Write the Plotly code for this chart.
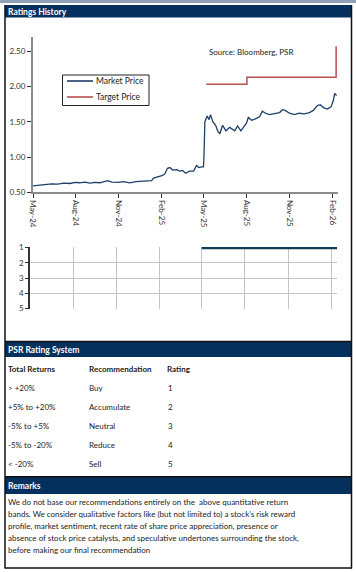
import plotly.graph_objects as go

W, H = 356, 572
def X(px): return px / W
def Y(py): return 1 - py / H

# ---------------- data ----------------
price_dates = [
    "2024-05-01", "2024-05-11", "2024-05-27", "2024-06-10", "2024-06-23", "2024-07-06",
    "2024-07-19", "2024-07-30", "2024-08-09", "2024-08-20", "2024-08-31", "2024-09-10",
    "2024-09-21", "2024-10-02", "2024-10-08", "2024-10-17", "2024-10-30", "2024-11-11",
    "2024-11-24", "2024-12-07", "2024-12-20", "2025-01-02", "2025-01-10", "2025-01-14",
    "2025-01-23", "2025-02-01", "2025-02-07", "2025-02-13", "2025-02-18", "2025-02-24",
    "2025-03-05", "2025-03-11", "2025-03-17", "2025-03-24", "2025-04-01", "2025-04-10",
    "2025-04-16", "2025-04-21", "2025-04-27", "2025-05-01", "2025-05-02", "2025-05-04",
    "2025-05-09", "2025-05-13", "2025-05-16", "2025-05-21", "2025-05-27", "2025-06-01",
    "2025-06-05", "2025-06-11", "2025-06-18", "2025-06-26", "2025-07-07", "2025-07-13",
    "2025-07-20", "2025-07-28", "2025-08-01", "2025-08-05", "2025-08-12", "2025-08-20",
    "2025-08-29", "2025-09-04", "2025-09-11", "2025-09-19", "2025-09-30", "2025-10-11",
    "2025-10-17", "2025-10-23", "2025-11-01", "2025-11-12", "2025-11-22", "2025-12-03",
    "2025-12-14", "2025-12-22", "2025-12-31", "2026-01-06", "2026-01-13", "2026-01-21",
    "2026-01-29", "2026-02-03", "2026-02-06", "2026-02-10",
]
price_values = [
    0.59, 0.60, 0.61, 0.62, 0.615, 0.63,
    0.625, 0.64, 0.635, 0.645, 0.63, 0.64,
    0.635, 0.65, 0.665, 0.645, 0.64, 0.65,
    0.635, 0.65, 0.655, 0.66, 0.665, 0.70,
    0.72, 0.735, 0.76, 0.84, 0.85, 0.815,
    0.82, 0.80, 0.81, 0.77, 0.80, 0.80,
    0.88, 0.85, 0.86, 0.86, 1.00, 1.50,
    1.58, 1.53, 1.60, 1.50, 1.45, 1.36,
    1.33, 1.45, 1.37, 1.42, 1.37, 1.44,
    1.37, 1.45, 1.48, 1.56, 1.52, 1.54,
    1.57, 1.65, 1.62, 1.60, 1.62, 1.63,
    1.67, 1.66, 1.62, 1.60, 1.62, 1.61,
    1.63, 1.66, 1.73, 1.74, 1.70, 1.68,
    1.71, 1.80, 1.90, 1.87,
]
target_dates = ["2025-05-07", "2025-08-02", "2026-02-09"]
target_values = [2.03, 2.13, 2.57]

rating_dates = ["2025-05-01", "2026-02-13"]
rating_values = [1, 1]

x_range = ["2024-05-01", "2026-02-13"]
price_ticks = [0.5, 1.0, 1.5, 2.0, 2.5]
rating_ticks = [1, 2, 3, 4, 5]

series_names = ["Market Price", "Target Price"]
series_colors = ["#1d3f69", "#b8504e"]

table_header = ["Total Returns", "Recommendation", "Rating"]
total_returns = ["> +20%", "+5% to +20%", "-5% to +5%", "-5% to -20%", "< -20%"]
recommendations = ["Buy", "Accumulate", "Neutral", "Reduce", "Sell"]
ratings = ["1", "2", "3", "4", "5"]

remarks_lines = [
    "We do not base our recommendations entirely on the  above quantitative return",
    "bands. We consider qualitative factors like (but not limited to) a stock's risk reward",
    "profile, market sentiment, recent rate of share price appreciation, presence or",
    "absence of stock price catalysts, and speculative undertones surrounding the stock,",
    "before making our final recommendation",
]

FONT = "Lato"
NAVY = "#04305e"

# ---------------- figure ----------------
fig = go.Figure()
fig.add_trace(go.Scatter(x=price_dates, y=price_values, mode="lines", name=series_names[0],
                         line=dict(color=series_colors[0], width=1.3), xaxis="x", yaxis="y"))
fig.add_trace(go.Scatter(x=target_dates, y=target_values, mode="lines", name=series_names[1],
                         line=dict(color=series_colors[1], width=1.5, shape="hv"), xaxis="x", yaxis="y"))
fig.add_trace(go.Scatter(x=rating_dates, y=rating_values, mode="lines", showlegend=False,
                         line=dict(color="#123a56", width=3), xaxis="x2", yaxis="y2"))

tickfont = dict(family=FONT, size=8, color="#333333")

fig.update_layout(
    width=W, height=H, autosize=False,
    margin=dict(l=0, r=0, t=0, b=0),
    paper_bgcolor="white", plot_bgcolor="white",
    font=dict(family=FONT, size=8, color="#222222"),
    showlegend=False,
    xaxis=dict(type="date", range=x_range, domain=[X(33), X(338)], anchor="y",
               tick0="2024-05-01", dtick="M3", tickformat="%b-%y", tickangle=90,
               ticks="outside", ticklen=4, tickcolor="#333333", tickwidth=1,
               showline=True, linecolor="#8c8c8c", linewidth=2,
               showgrid=False, zeroline=False, tickfont=tickfont, automargin=False),
    yaxis=dict(range=[0.5, 2.7], domain=[Y(192.3), Y(37)], anchor="x",
               tickvals=price_ticks, tickformat=".2f",
               ticks="outside", ticklen=4, tickcolor="#333333",
               showline=True, linecolor="#8c8c8c", linewidth=2,
               showgrid=False, zeroline=False, tickfont=tickfont, automargin=False),
    xaxis2=dict(type="date", range=x_range, domain=[X(30), X(337.2)], anchor="y2",
                tick0="2024-05-01", dtick="M3", showticklabels=False, ticks="",
                showgrid=True, gridcolor="#c4c4c4", gridwidth=1,
                showline=False, zeroline=False, automargin=False),
    yaxis2=dict(range=[5.03, 0.95], domain=[Y(308.8), Y(246.9)], anchor="x2",
                tickvals=rating_ticks, ticks="outside", ticklen=3, tickcolor="#333333",
                showline=True, linecolor="#333333", linewidth=1.5,
                showgrid=True, gridcolor="#c4c4c4", gridwidth=1,
                zeroline=False, tickfont=tickfont, automargin=False),
)

shapes = []
def rect(x0, y0, x1, y1, fill, line_color=None, lw=0, layer="below"):
    shapes.append(dict(type="rect", xref="paper", yref="paper",
                       x0=X(x0), x1=X(x1), y0=Y(y1), y1=Y(y0),
                       fillcolor=fill, line=dict(width=lw, color=line_color or fill),
                       layer=layer))
def hline(x0, x1, y, color="#111111", lw=1.5):
    shapes.append(dict(type="line", xref="paper", yref="paper",
                       x0=X(x0), x1=X(x1), y0=Y(y), y1=Y(y), line=dict(color=color, width=lw)))
def vline(x, y0, y1, color="#111111", lw=1.5):
    shapes.append(dict(type="line", xref="paper", yref="paper",
                       x0=X(x), x1=X(x), y0=Y(y0), y1=Y(y1), line=dict(color=color, width=lw)))

rect(0, 0, 356, 3, "#8fa2b5")
rect(5, 5, 352, 17.5, NAVY)
rect(5, 342, 352, 357, NAVY)
rect(5, 477, 352, 494, NAVY)
vline(5, 5, 568.5)
vline(351.5, 5, 568.5)
hline(5, 352, 568)
hline(5, 352, 341.5)
hline(5, 352, 476.8)

# legend key (box + line samples)
rect(62.5, 75, 149, 105.5, "white", line_color="#222222", lw=1, layer="above")
legend_rows = [81, 97]
for ly, col in zip(legend_rows, series_colors):
    hline(67, 93, ly, color=col, lw=1.6)
fig.update_layout(shapes=shapes)

anns = []
def text(x, y, s, bold=False, color="#222222", size=8):
    anns.append(dict(xref="paper", yref="paper", x=X(x), y=Y(y), text=(f"<b>{s}</b>" if bold else s),
                     showarrow=False, xanchor="left", yanchor="middle",
                     font=dict(family=FONT, size=size, color=color)))

text(6, 11.5, "Ratings History", bold=True, color="white", size=8.5)
text(207, 52, "Source: Bloomberg, PSR")
for ly, name in zip(legend_rows, series_names):
    text(93.5, ly, name, size=8.5)
text(6, 350, "PSR Rating System", bold=True, color="white", size=8.5)
text(6, 369, table_header[0], bold=True)
text(87, 369, table_header[1], bold=True)
text(165, 369, table_header[2], bold=True)
for i, (a, b, c) in enumerate(zip(total_returns, recommendations, ratings)):
    yy = 388 + i * 19
    text(6, yy, a)
    text(87, yy, b)
    text(166, yy, c)
text(6, 485.5, "Remarks", bold=True, color="white", size=8.5)
for i, line in enumerate(remarks_lines):
    text(5.5, 502 + i * 12, line)
fig.update_layout(annotations=anns)

fig.write_html("out.html", config={"displayModeBar": False},
               post_script="document.body.style.margin='0';document.body.style.overflow='hidden';")
